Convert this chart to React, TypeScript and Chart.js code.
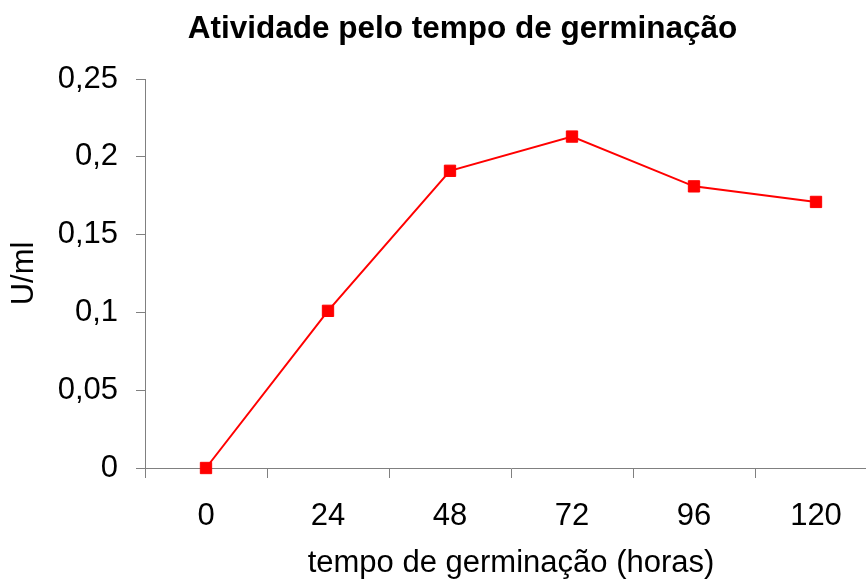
import { useEffect, useRef } from 'react';
import { Chart, registerables } from 'chart.js';

Chart.register(...registerables);

const categories = ['0', '24', '48', '72', '96', '120'];
const activity = [0, 0.101, 0.191, 0.213, 0.181, 0.171];
const yTickValues = [0, 0.05, 0.1, 0.15, 0.2, 0.25];
const chartTitle = 'Atividade pelo tempo de germinação';
const xAxisTitle = 'tempo de germinação (horas)';
const yAxisTitle = 'U/ml';

const FONT = '"Liberation Sans", Arial, sans-serif';
const CANVAS_W = 925;
const CANVAS_H = 582;

export default function App() {
  const ref = useRef<HTMLCanvasElement>(null);

  useEffect(() => {
    if (!ref.current) return;
    const titlePlugin = {
      id: 'centeredTitle',
      afterDraw(chart: any) {
        const ctx = chart.ctx;
        ctx.save();
        ctx.font = `bold 31.5px ${FONT}`;
        ctx.fillStyle = '#000000';
        ctx.textAlign = 'center';
        ctx.textBaseline = 'alphabetic';
        ctx.fillText(chartTitle, 462.5, 38);
        ctx.restore();
      },
    };

    const chart = new Chart(ref.current, {
      type: 'line',
      data: {
        labels: categories,
        datasets: [
          {
            data: activity,
            borderColor: '#ff0000',
            backgroundColor: '#ff0000',
            borderWidth: 2,
            pointStyle: 'rect',
            pointRadius: 8,
            pointBorderWidth: 1,
            pointBackgroundColor: '#ff0000',
            pointBorderColor: '#ff0000',
            tension: 0,
            fill: false,
            clip: false as any,
          },
        ],
      },
      options: {
        responsive: false,
        animation: false,
        devicePixelRatio: 1,
        layout: { padding: { top: 79, right: CANVAS_W - 877, left: 0, bottom: 0 } },
        plugins: {
          legend: { display: false },
          tooltip: { enabled: false },
          title: { display: false },
        },
        scales: {
          x: {
            type: 'category',
            offset: true,
            grid: {
              offset: true,
              drawOnChartArea: false,
              drawTicks: true,
              tickLength: 10,
              color: '#808080',
              lineWidth: 1,
            },
            border: { display: true, color: '#808080', width: 1 },
            ticks: {
              color: '#000000',
              font: { family: FONT, size: 31 },
              padding: 20,
              maxRotation: 0,
              autoSkip: false,
            },
            title: {
              display: true,
              text: xAxisTitle,
              color: '#000000',
              font: { family: FONT, size: 31 },
              padding: { top: 0, bottom: 0 },
            },
            afterFit(scale: any) {
              scale.height = 114;
            },
          },
          y: {
            type: 'linear',
            min: 0,
            max: 0.25,
            afterBuildTicks(scale: any) {
              scale.ticks = yTickValues.map((v) => ({ value: v }));
            },
            grid: {
              drawOnChartArea: false,
              drawTicks: true,
              tickLength: 9,
              color: '#808080',
              lineWidth: 1,
            },
            border: { display: true, color: '#808080', width: 1 },
            ticks: {
              color: '#000000',
              font: { family: FONT, size: 31 },
              padding: 18,
              callback: (v: any) => String(Math.round(Number(v) * 100) / 100).replace('.', ','),
            },
            title: {
              display: true,
              text: yAxisTitle,
              color: '#000000',
              font: { family: FONT, size: 31 },
              padding: { top: 6, bottom: 0 },
            },
            afterFit(scale: any) {
              scale.width = 145;
            },
          },
        },
      },
      plugins: [titlePlugin],
    });
    return () => chart.destroy();
  }, []);

  return (
    <div
      style={{
        position: 'fixed',
        left: 0,
        top: 0,
        width: 866,
        height: 582,
        overflow: 'hidden',
        background: '#ffffff',
      }}
    >
      <canvas
        ref={ref}
        width={CANVAS_W}
        height={CANVAS_H}
        style={{ display: 'block', width: CANVAS_W, height: CANVAS_H }}
      />
    </div>
  );
}
